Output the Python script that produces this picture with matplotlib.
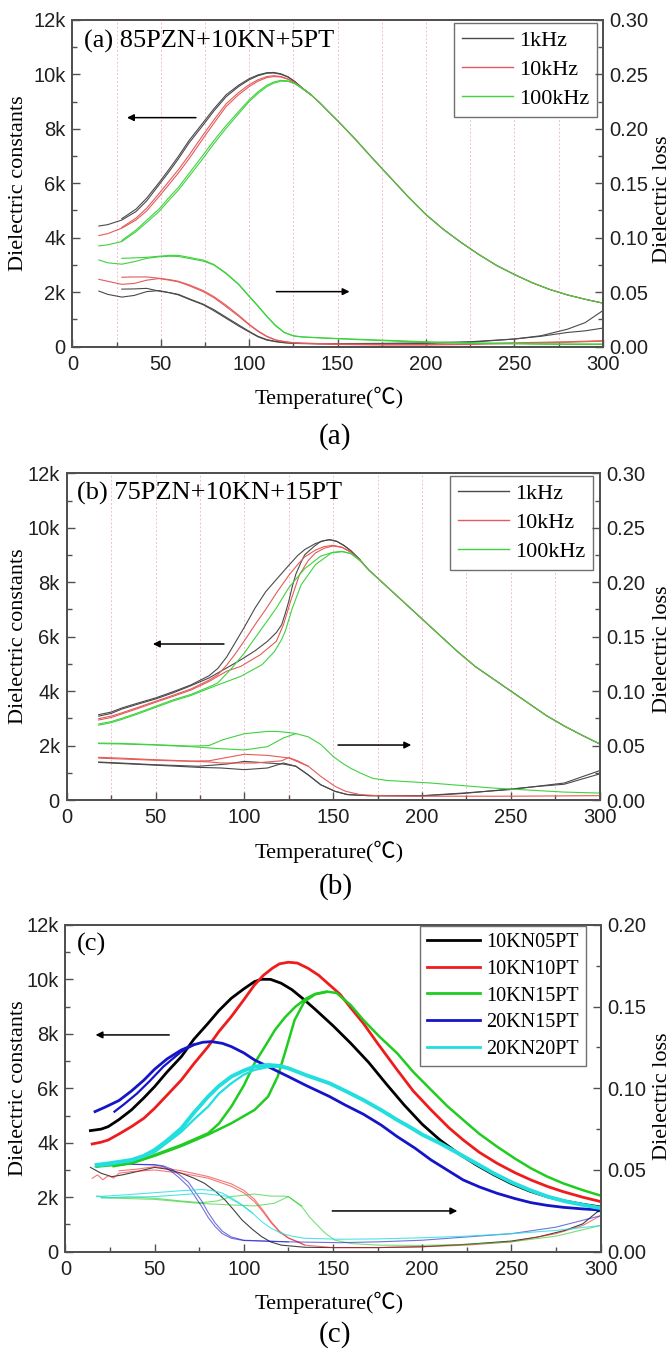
import matplotlib
matplotlib.use("Agg")
import matplotlib.pyplot as plt
from matplotlib.ticker import MultipleLocator, FuncFormatter

SERIF = ["Liberation Serif", "Noto Sans CJK SC", "DejaVu Sans"]
SANS = "Liberation Sans"

# ---------------- (a) 85PZN+10KN+5PT ----------------
# dielectric constant, shared high temperature tail (all frequencies merge)
a_tail_t = [140, 145, 150, 155, 160, 170, 180, 190, 200, 210, 220, 230, 240, 250, 260, 270, 280, 290, 300]
a_tail_eps = [8950, 8620, 8300, 7960, 7620, 6900, 6200, 5500, 4850, 4300, 3820, 3380, 2980, 2650, 2350, 2100, 1900, 1740, 1600]

a_t1 = [15, 20, 28, 36, 42, 49, 55, 60, 66, 74, 80, 87, 94, 100, 105, 110, 114, 118, 122, 126, 130, 135]
a_t2 = a_t1[2:]  # second run starts at ~28 C
a_eps_1k_h = [4430, 4480, 4650, 4960, 5350, 5940, 6450, 6900, 7480, 8140, 8650, 9180, 9550, 9800, 9950, 10040, 10050, 10000, 9900, 9720, 9500, 9250]
a_eps_1k_c = [4700, 5050, 5450, 6020, 6540, 6990, 7570, 8230, 8730, 9250, 9600, 9840, 9980, 10060, 10070, 10020, 9910, 9730, 9500, 9250]
a_eps_10k_h = [4080, 4150, 4350, 4650, 4980, 5510, 5980, 6380, 6900, 7650, 8200, 8820, 9250, 9550, 9750, 9880, 9920, 9900, 9820, 9680, 9480, 9250]
a_eps_10k_c = [4380, 4720, 5080, 5620, 6100, 6500, 7030, 7780, 8320, 8920, 9330, 9620, 9800, 9920, 9950, 9920, 9830, 9690, 9490, 9250]
a_eps_100k_h = [3700, 3740, 3860, 4220, 4560, 4960, 5400, 5750, 6250, 6920, 7450, 8020, 8550, 9000, 9300, 9550, 9680, 9750, 9740, 9650, 9480, 9250]
a_eps_100k_c = [3900, 4280, 4640, 5050, 5500, 5850, 6360, 7040, 7560, 8120, 8630, 9060, 9360, 9600, 9720, 9780, 9760, 9660, 9490, 9250]

# dielectric loss
a_lt1 = [15, 20, 28, 35, 42, 49, 55, 60, 66, 74, 80, 87, 94, 100, 105, 110, 115, 120, 125, 130,
         140, 150, 175, 200, 225, 250, 265, 280, 290, 300]
a_lt2 = a_lt1[2:]
a_loss_1k_h = [.051, .048, .0455, .047, .0505, .0515, .0495, .0475, .0435, .0385, .033, .026, .019, .0135, .009,
               .006, .0045, .0035, .003, .0028, .0026, .0025, .0025, .003, .004, .007, .010, .016, .022, .033]
a_loss_1k_c = [.0528, .053, .0535, .051, .0495, .048, .044, .039, .034, .027, .020, .014, .0095, .0065,
               .0048, .0038, .0032, .003, .0028, .0028, .003, .0035, .0045, .007, .0095, .013, .0145, .017]
a_loss_10k_h = [.0618, .060, .0572, .058, .061, .0625, .061, .0595, .056, .0505, .045, .0367, .028, .020, .014,
                .0092, .006, .0045, .0035, .003, .0025, .002, .0015, .0015, .002, .003, .0035, .004, .0045, .005]
a_loss_10k_c = [.0637, .064, .064, .0628, .0615, .060, .0568, .0515, .046, .038, .029, .0205, .0145, .0095,
                .0062, .0047, .0036, .0032, .0028, .0025, .002, .002, .0025, .0035, .004, .0045, .005, .0055]
a_loss_100k_h = [.0796, .0770, .0757, .078, .081, .0825, .083, .0828, .081, .0785, .075, .067, .057, .046, .037,
                 .0276, .019, .0128, .0098, .0088, .008, .0072, .0055, .004, .003, .0025, .0022, .002, .002, .002]
a_loss_100k_c = [.0811, .0815, .082, .083, .0838, .0838, .082, .0795, .0755, .0675, .0575, .0465, .0375, .028,
                 .0195, .013, .010, .009, .0082, .0075, .006, .0045, .0035, .003, .0027, .0025, .0025, .0025]

# ---------------- (b) 75PZN+10KN+15PT ----------------
b_tail_t = [170, 180, 190, 200, 210, 220, 230, 240, 250, 260, 270, 280, 290, 300]
b_tail_eps = [8450, 7850, 7250, 6650, 6050, 5450, 4900, 4450, 4000, 3550, 3100, 2720, 2380, 2060]

b_t_1k_u = [18, 25, 31, 40, 50, 60, 70, 80, 85, 90, 95, 100, 106, 112, 118, 125, 130, 134, 140, 145, 148, 152, 156, 160, 165]
b_eps_1k_u = [3135, 3230, 3380, 3560, 3750, 3980, 4230, 4560, 4830, 5250, 5800, 6350, 7050, 7650, 8100, 8620, 8980,
              9200, 9420, 9530, 9560, 9500, 9350, 9150, 8830]
b_t_1k_l = [18, 25, 31, 40, 50, 60, 70, 80, 90, 98, 106, 113, 118, 121, 123, 125, 127, 129, 132, 134, 139, 143,
            148, 152, 156, 160, 165]
b_eps_1k_l = [3080, 3180, 3340, 3520, 3710, 3940, 4200, 4480, 4850, 5150, 5480, 5830, 6150, 6440, 6850, 7300, 7850,
              8300, 8750, 9010, 9300, 9500, 9560, 9500, 9350, 9150, 8830]
b_t_10k_u = [18, 25, 31, 40, 50, 60, 70, 80, 85, 90, 95, 100, 106, 112, 118, 125, 130, 134, 140, 145, 150, 155, 160, 165]
b_eps_10k_u = [2988, 3080, 3200, 3400, 3625, 3850, 4080, 4400, 4600, 4950, 5380, 5850, 6441, 7000, 7600, 8250, 8650,
               8930, 9180, 9310, 9355, 9280, 9100, 8800]
b_t_10k_l = [18, 25, 31, 40, 50, 60, 70, 80, 90, 98, 109, 118, 122, 126, 131, 136, 140, 145, 150, 155, 160, 165]
b_eps_10k_l = [2940, 3030, 3160, 3360, 3590, 3810, 4040, 4350, 4730, 4910, 5339, 5830, 6441, 7300, 8278, 8800, 9074,
               9250, 9330, 9280, 9100, 8800]
b_t_100k_u = [18, 25, 31, 40, 50, 60, 70, 80, 85, 93, 100, 106, 112, 118, 125, 134, 143, 150, 155, 160, 165]
b_eps_100k_u = [2792, 2880, 3000, 3200, 3441, 3680, 3880, 4150, 4298, 4849, 5400, 5951, 6500, 7050, 7800, 8500, 8960,
                9100, 9135, 9050, 8800]
b_t_100k_l = [18, 25, 31, 40, 50, 60, 70, 80, 88, 98, 110, 117, 121, 123, 127, 132, 140, 149, 155, 160, 165]
b_eps_100k_l = [2750, 2840, 2960, 3160, 3400, 3640, 3840, 4100, 4300, 4543, 4972, 5461, 5900, 6196, 7053, 7910, 8645,
                9074, 9120, 9050, 8800]

b_lt_100k_u = [18, 30, 50, 70, 80, 88, 100, 113, 118, 125, 129, 136, 143, 150, 155, 160, 165, 172, 180, 205, 240, 280, 300]
b_loss_100k_u = [.0523, .052, .0508, .0495, .050, .0554, .0609, .063, .063, .062, .061, .058, .051, .040, .034, .029,
                 .025, .020, .018, .0156, .011, .0073, .0064]
b_lt_100k_l = [18, 30, 50, 70, 80, 88, 100, 113, 122, 129]
b_loss_100k_l = [.0518, .0515, .0505, .049, .0478, .047, .046, .049, .057, .061]
b_lt_10k_u = [18, 30, 50, 70, 80, 90, 100, 113, 125, 136, 143, 151, 157, 165, 175, 200, 250, 300]
b_loss_10k_u = [.0392, .0385, .037, .0358, .036, .039, .042, .041, .0386, .031, .0217, .0126, .008, .005, .004,
                .0035, .0035, .004]
b_lt_10k_l = [18, 50, 80, 87, 106, 121, 125, 130, 136]
b_loss_10k_l = [.0385, .0365, .035, .034, .034, .036, .039, .036, .031]
b_lt_1k_u = [18, 30, 50, 74, 90, 100, 113, 122, 129, 136, 143, 151, 158, 170, 200, 223, 249, 280, 300]
b_loss_1k_u = [.0349, .034, .0324, .031, .033, .0355, .034, .033, .031, .023, .014, .008, .005, .004, .004, .0064,
               .0095, .0156, .027]
b_lt_1k_l = [18, 50, 74, 87, 100, 113, 122, 129, 136, 143, 151, 158, 170, 200, 223, 249, 265, 280, 300]
b_loss_1k_l = [.0345, .032, .030, .0294, .0279, .0294, .034, .031, .023, .014, .008, .005, .004, .0038, .006, .010,
               .0125, .0145, .024]

# ---------------- (c) composition comparison ----------------
c_t_05 = [14, 20, 24, 30, 37, 44, 50, 57, 65, 72, 80, 86, 93, 100, 106, 110, 115, 121, 127, 134,
          140, 150, 160, 170, 180, 190, 200, 210, 220, 230, 240, 250, 260, 270, 280, 290, 300]
c_eps_05 = [4445, 4500, 4592, 4850, 5204, 5650, 6061, 6600, 7163, 7800, 8388, 8850, 9306, 9650, 9918, 10004, 10000,
            9857, 9620, 9245, 8900, 8300, 7650, 6950, 6150, 5380, 4680, 4100, 3620, 3200, 2830, 2500, 2230, 2020,
            1860, 1740, 1640]
c_t_10 = [15, 20, 24, 30, 37, 44, 50, 57, 65, 72, 80, 86, 93, 100, 106, 111, 116, 120, 125, 130,
          136, 142, 148, 154, 160, 167, 175, 186, 195, 205, 215, 223, 232, 242, 252, 261, 270, 279, 290, 300]
c_eps_10 = [3955, 4020, 4102, 4320, 4592, 4900, 5265, 5750, 6306, 6900, 7531, 8080, 8633, 9250, 9796, 10150, 10408,
            10570, 10629, 10600, 10408, 10150, 9800, 9450, 8950, 8388, 7650, 6674, 5900, 5204, 4550, 4102, 3650,
            3245, 2900, 2633, 2400, 2204, 2000, 1840]
c_t_15u = [17.5, 25, 37, 50, 65, 80, 86, 93, 100, 106, 112, 117.5, 123, 129, 135, 140, 146.5, 152, 160, 167,
           176, 186, 195, 205, 214, 223, 232, 242, 252, 261, 270, 279, 290, 300]
c_eps_15u = [3122, 3170, 3245, 3551, 3918, 4347, 4700, 5327, 6100, 6918, 7550, 8143, 8600, 9000, 9300, 9466, 9551,
             9500, 9050, 8510, 7900, 7286, 6600, 5939, 5350, 4837, 4330, 3857, 3420, 3061, 2760, 2510, 2260, 2060]
c_t_15l = [27, 37, 50, 65, 80, 93, 106, 113.6, 119, 123, 128.5, 134, 140, 146.5]
c_eps_15l = [3140, 3250, 3520, 3880, 4300, 4714, 5204, 5694, 6429, 7286, 8510, 9184, 9450, 9540]
c_t_2015u = [16.6, 22, 30, 37, 44, 50, 57, 65, 72, 77, 82, 88, 93, 100, 106, 115, 125, 135, 148, 157,
             167, 177, 186, 196, 205, 214, 223, 232, 242, 252, 261, 270, 279, 290, 300]
c_eps_2015u = [5143, 5300, 5550, 5900, 6300, 6700, 7080, 7408, 7600, 7690, 7714, 7650, 7531, 7300, 7041, 6750, 6429,
               6100, 5700, 5380, 5050, 4650, 4225, 3800, 3367, 3000, 2633, 2380, 2143, 1950, 1800, 1700, 1629, 1570,
               1530]
c_t_2015l = [27.5, 33, 40, 47, 55, 65, 72]
c_eps_2015l = [5143, 5420, 5800, 6250, 6800, 7350, 7600]
c_t_20u = [17.5, 25, 37, 44, 50, 57, 65, 72, 80, 86, 93, 100, 106, 113.6, 120, 125, 135, 148, 157, 167,
           177, 186, 193, 200, 210, 220, 230, 240, 250, 260, 270, 280, 290, 300]
c_eps_20u = [3184, 3250, 3367, 3520, 3735, 4080, 4531, 5100, 5694, 6080, 6429, 6650, 6796, 6857, 6820, 6735, 6480,
             6184, 5900, 5571, 5200, 4837, 4580, 4300, 3980, 3620, 3250, 2880, 2550, 2270, 2030, 1850, 1720, 1600]
c_t_20l = [20, 37, 50, 65, 72, 80, 86, 93, 100, 106, 113.6, 120, 125]
c_eps_20l = [3150, 3330, 3650, 4400, 4850, 5327, 5800, 6184, 6500, 6674, 6780, 6800, 6735]

c_lt_05 = [14, 20, 26, 32, 40, 50, 57, 65, 72, 78, 84, 89.5, 94, 99, 105, 110, 115, 121, 134, 150,
           175, 200, 225, 250, 265, 280, 290, 300]
c_loss_05 = [.0516, .048, .0459, .047, .049, .0516, .0505, .048, .045, .0418, .037, .0316, .026, .0194, .0135, .0092,
             .006, .004, .0027, .0025, .0025, .003, .0045, .0065, .009, .013, .017, .026]
c_lt_10a = [15, 18, 21, 24, 27, 30, 37, 50, 65, 80, 93, 100, 106, 111, 115.6, 120, 125, 130, 134, 150,
            175, 200, 225, 250, 275, 290, 300]
c_loss_10a = [.0449, .047, .044, .0465, .045, .048, .049, .050, .048, .045, .040, .036, .0306, .024, .0173, .012,
              .0082, .006, .004, .0025, .0025, .003, .004, .006, .011, .016, .022]
c_lt_10b = [30, 40, 50, 65, 80, 93, 100, 106, 111, 115.6, 120, 125, 130, 134]
c_loss_10b = [.0495, .0505, .052, .0495, .046, .0415, .0375, .032, .025, .018, .0125, .0085, .0062, .0042]
c_lt_2015u = [16.6, 25, 37, 50, 55, 59.6, 64, 69, 72.5, 76.4, 80, 84, 88, 93, 100, 125, 154, 175, 200, 225, 250, 275, 300]
c_loss_2015u = [.052, .053, .0535, .053, .052, .049, .045, .0398, .034, .0276, .021, .0153, .011, .0082, .0068, .006,
                .0055, .006, .007, .009, .011, .015, .022]
c_lt_2015l = [27.5, 37, 50, 55, 59.6, 64, 69, 72.5, 76.4, 80, 84, 88, 93, 100, 125]
c_loss_2015l = [.053, .0535, .0533, .0525, .0505, .047, .0425, .037, .031, .024, .0175, .0125, .009, .007, .006]
c_lt_20u = [17.5, 30, 50, 65, 76, 82, 87.6, 93, 99, 105, 110, 115, 121, 127, 134, 154, 175, 200, 225, 250, 275, 300]
c_loss_20u = [.0337, .0345, .0361, .0373, .038, .0375, .036, .033, .0286, .0235, .0184, .0145, .0112, .0095, .0082,
              .0076, .0078, .0085, .0095, .011, .013, .016]
c_lt_20l = [20, 50, 76, 90, 99, 105]
c_loss_20l = [.0330, .0337, .0357, .034, .0285, .0235]
c_lt_15u = [17.5, 25, 35, 50, 65, 76, 85, 93, 106, 115, 122, 125, 132.5, 137, 142, 146, 151, 160, 175, 200,
            225, 250, 275, 300]
c_loss_15u = [.0341, .033, .0335, .0327, .031, .030, .031, .0337, .0353, .034, .034, .0337, .0276, .021, .0153, .011,
              .0071, .005, .004, .0038, .0045, .006, .0095, .016]
c_lt_15l = [20, 50, 76, 93, 106, 117, 125, 132.5]
c_loss_15l = [.033, .032, .0295, .0286, .028, .0296, .0337, .0280]

freq_labels = ["1kHz", "10kHz", "100kHz"]
comp_labels = ["10KN05PT", "10KN10PT", "10KN15PT", "20KN15PT", "20KN20PT"]

AX_COL = "#505050"
K, R, G = "#4a4a4a", "#e65a5a", "#3fd23f"
CK, CR, CG, CB, CC = "#000000", "#ee1c1c", "#1fcc1f", "#1414c8", "#22dede"


def style(ax, ax2, loss_max, grid=True):
    ax.set_xlim(0, 300)
    ax.set_ylim(0, 12000)
    ax2.set_ylim(0, loss_max)
    ax.xaxis.set_major_locator(MultipleLocator(50))
    ax.xaxis.set_minor_locator(MultipleLocator(25))
    ax.yaxis.set_major_locator(MultipleLocator(2000))
    ax.yaxis.set_minor_locator(MultipleLocator(1000))
    ax2.yaxis.set_major_locator(MultipleLocator(0.05))
    ax2.yaxis.set_minor_locator(MultipleLocator(0.025))
    ax.yaxis.set_major_formatter(FuncFormatter(lambda v, p: "0" if v == 0 else "%dk" % round(v / 1000)))
    ax2.yaxis.set_major_formatter(FuncFormatter(lambda v, p: "%.2f" % v))
    for a in (ax, ax2):
        for s in a.spines.values():
            s.set_color(AX_COL)
            s.set_linewidth(1.3)
        a.tick_params(which="both", direction="in", color=AX_COL, width=1.0, labelsize=14.5)
        a.tick_params(which="major", length=6)
        a.tick_params(which="minor", length=3.5)
    ax.tick_params(axis="x", pad=6, top=False)
    ax.tick_params(axis="y", pad=5, right=False)
    ax2.tick_params(axis="y", pad=5)
    for lab in ax.get_xticklabels() + ax.get_yticklabels() + ax2.get_yticklabels():
        lab.set_family(SANS)
        lab.set_color("#202020")
    if grid:
        ax.grid(True, which="both", axis="x", color="#f2bcd2", ls=(0, (2, 2)), lw=0.7)
    ax.set_axisbelow(True)


def arrow(ax, x0, x1, y):
    ax.annotate("", xy=(x1, y), xytext=(x0, y),
                arrowprops=dict(arrowstyle="-|>", color="k", lw=1.1, mutation_scale=10,
                                shrinkA=0, shrinkB=0))


def labels(fig, ax, loss_label_y, xlabel_y, cap, cap_y):
    pos = ax.get_position()
    yc = (pos.y0 + pos.y1) / 2
    fig.text(0.027, yc, "Dielectric constants", rotation=90, ha="center", va="center",
             fontsize=16, family=SERIF)
    fig.text(0.988, loss_label_y, "Dielectric loss", rotation=90, ha="center", va="center",
             fontsize=16, family=SERIF)
    fig.text(0.49, xlabel_y, "Temperature(\u2103)", ha="center", va="center", fontsize=16, family=SERIF)
    fig.text(0.5, cap_y, cap, ha="center", va="center", fontsize=21, family=SERIF)


def legend(ax, anchor, size, hl, lwl):
    leg = ax.legend(loc="upper right", bbox_to_anchor=anchor, borderaxespad=0, fancybox=False,
                    edgecolor="#707070", framealpha=1, handlelength=hl, labelspacing=0.38,
                    prop={"family": SERIF, "size": size}, borderpad=0.35, handletextpad=0.3)
    leg.get_frame().set_linewidth(1.0)
    for l in leg.get_lines():
        l.set_linewidth(lwl)


fig = plt.figure(figsize=(6.71, 13.53), dpi=100)

# ---- panel (a)
ax = fig.add_axes([0.1078, 0.7438, 0.7905, 0.2415])
ax2 = ax.twinx()
lw = 0.8
ax.plot(a_t1 + a_tail_t, a_eps_1k_h + a_tail_eps, color=K, lw=lw, label=freq_labels[0])
ax.plot(a_t2, a_eps_1k_c, color=K, lw=lw)
ax.plot(a_t1 + a_tail_t, a_eps_10k_h + a_tail_eps, color=R, lw=lw, label=freq_labels[1])
ax.plot(a_t2, a_eps_10k_c, color=R, lw=lw)
ax.plot(a_t1 + a_tail_t, a_eps_100k_h + a_tail_eps, color=G, lw=lw, label=freq_labels[2])
ax.plot(a_t2, a_eps_100k_c, color=G, lw=lw)
ax2.plot(a_lt1, a_loss_1k_h, color=K, lw=lw)
ax2.plot(a_lt2, a_loss_1k_c, color=K, lw=lw)
ax2.plot(a_lt1, a_loss_10k_h, color=R, lw=lw)
ax2.plot(a_lt2, a_loss_10k_c, color=R, lw=lw)
ax2.plot(a_lt1, a_loss_100k_h, color=G, lw=lw)
ax2.plot(a_lt2, a_loss_100k_c, color=G, lw=lw)
style(ax, ax2, 0.30)
arrow(ax, 69.9, 30.9, 8410)
arrow(ax, 115.4, 156.8, 2020)
ax.text(0.022, 0.934, "(a) 85PZN+10KN+5PT", transform=ax.transAxes, fontsize=19, family=SERIF,
        va="center", ha="left")
legend(ax, (0.990, 0.992), 16, 2.3, 1.0)
labels(fig, ax, 0.853, 0.7058, "(a)", 0.677)

# ---- panel (b)
ax = fig.add_axes([0.0994, 0.4087, 0.7944, 0.2415])
ax2 = ax.twinx()
ax.plot(b_t_1k_u + b_tail_t, b_eps_1k_u + b_tail_eps, color=K, lw=lw, label=freq_labels[0])
ax.plot(b_t_1k_l, b_eps_1k_l, color=K, lw=lw)
ax.plot(b_t_10k_u + b_tail_t, b_eps_10k_u + b_tail_eps, color=R, lw=lw, label=freq_labels[1])
ax.plot(b_t_10k_l, b_eps_10k_l, color=R, lw=lw)
ax.plot(b_t_100k_u + b_tail_t, b_eps_100k_u + b_tail_eps, color=G, lw=lw, label=freq_labels[2])
ax.plot(b_t_100k_l, b_eps_100k_l, color=G, lw=lw)
ax2.plot(b_lt_1k_u, b_loss_1k_u, color=K, lw=lw)
ax2.plot(b_lt_1k_l, b_loss_1k_l, color=K, lw=lw)
ax2.plot(b_lt_10k_u, b_loss_10k_u, color=R, lw=lw)
ax2.plot(b_lt_10k_l, b_loss_10k_l, color=R, lw=lw)
ax2.plot(b_lt_100k_u, b_loss_100k_u, color=G, lw=lw)
ax2.plot(b_lt_100k_l, b_loss_100k_l, color=G, lw=lw)
style(ax, ax2, 0.30)
arrow(ax, 88.5, 48.5, 5730)
arrow(ax, 152.7, 193.9, 2020)
ax.text(0.019, 0.939, "(b) 75PZN+10KN+15PT", transform=ax.transAxes, fontsize=19, family=SERIF,
        va="center", ha="left")
legend(ax, (0.988, 0.992), 16, 2.3, 1.0)
labels(fig, ax, 0.52, 0.3703, "(b)", 0.3444)

# ---- panel (c)
ax = fig.add_axes([0.0975, 0.0749, 0.7975, 0.2415])
ax2 = ax.twinx()
tl = 0.8
ax2.plot(c_lt_05, c_loss_05, color=CK, lw=tl, alpha=0.75)
ax2.plot(c_lt_10a, c_loss_10a, color=CR, lw=tl, alpha=0.6)
ax2.plot(c_lt_10b, c_loss_10b, color=CR, lw=tl, alpha=0.6)
ax2.plot(c_lt_15u, c_loss_15u, color=CG, lw=tl, alpha=0.6)
ax2.plot(c_lt_15l, c_loss_15l, color=CG, lw=tl, alpha=0.6)
ax2.plot(c_lt_2015u, c_loss_2015u, color=CB, lw=tl, alpha=0.6)
ax2.plot(c_lt_2015l, c_loss_2015l, color=CB, lw=tl, alpha=0.6)
ax2.plot(c_lt_20u, c_loss_20u, color=CC, lw=tl, alpha=0.8)
ax2.plot(c_lt_20l, c_loss_20l, color=CC, lw=tl, alpha=0.8)
ax.set_zorder(ax2.get_zorder() + 1)
ax.patch.set_visible(False)
ax.plot(c_t_05, c_eps_05, color=CK, lw=2.0, label=comp_labels[0])
ax.plot(c_t_10, c_eps_10, color=CR, lw=2.0, label=comp_labels[1])
ax.plot(c_t_15u, c_eps_15u, color=CG, lw=1.8, label=comp_labels[2])
ax.plot(c_t_15l, c_eps_15l, color=CG, lw=1.8)
ax.plot(c_t_2015u, c_eps_2015u, color=CB, lw=2.0, label=comp_labels[3])
ax.plot(c_t_2015l, c_eps_2015l, color=CB, lw=1.6)
ax.plot(c_t_20u, c_eps_20u, color=CC, lw=2.8, label=comp_labels[4])
ax.plot(c_t_20l, c_eps_20l, color=CC, lw=1.6)
style(ax, ax2, 0.20, grid=False)
arrow(ax, 58.2, 16.9, 7960)
arrow(ax, 149.6, 219.7, 1495)
ax.text(0.021, 0.939, "(c)", transform=ax.transAxes, fontsize=19, family=SERIF, va="center", ha="left")
legend(ax, (0.972, 0.997), 14.5, 2.6, 2.0)
labels(fig, ax, 0.19, 0.037, "(c)", 0.0133)

fig.savefig("out.png", dpi=100)
